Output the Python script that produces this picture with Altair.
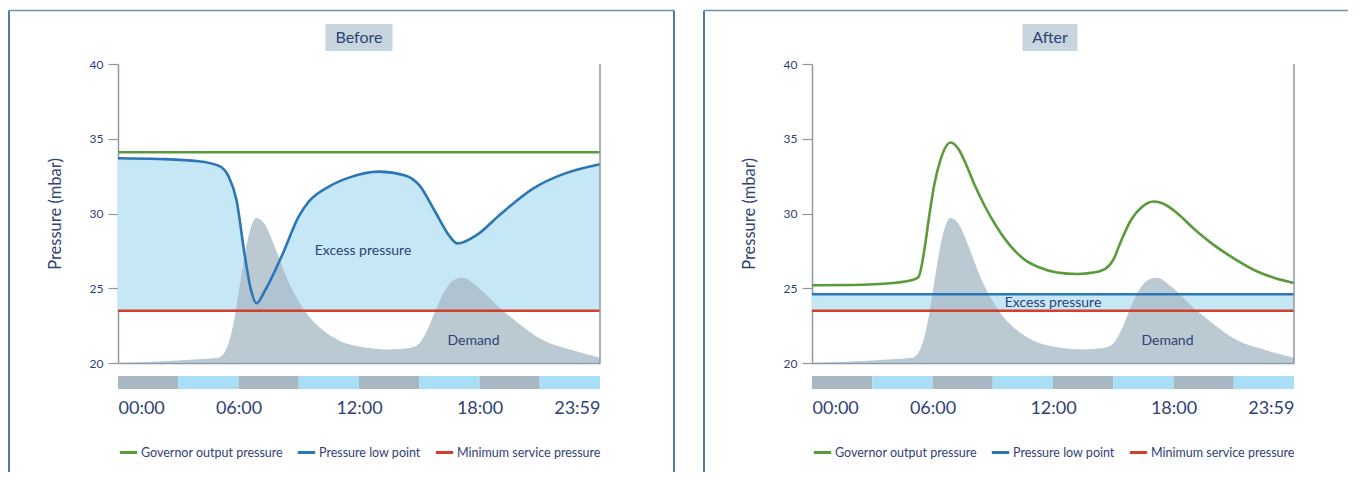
import altair as alt
import pandas as pd

# ---------------- data ----------------
SERIES = ["Governor output pressure", "Pressure low point", "Minimum service pressure"]

MIN_SERVICE = 23.5          # mbar, both panels
GOV_BEFORE = 34.1           # constant governor output, "Before"
LOW_AFTER = 24.6            # constant pressure low point, "After"

HOURS_LOW_BEFORE = [0, 2, 4, 5.0, 5.5, 5.9, 6.3, 6.6, 6.9, 7.3, 8.2, 9.0, 9.5, 10.5, 11.5,
                    13.0, 14.3, 15.0, 15.8, 16.5, 16.9, 17.9, 19.0, 20.7, 22.3, 24]
LOW_BEFORE = [33.7, 33.65, 33.5, 33.2, 32.5, 30.9, 27.3, 25.0, 24.0, 24.8, 27.3, 29.8, 30.8, 31.8, 32.4,
              32.8, 32.55, 31.9, 30.1, 28.5, 28.0, 28.6, 29.9, 31.7, 32.7, 33.3]

HOURS_GOV_AFTER = [0, 2, 4, 5.0, 5.3, 5.6, 5.8, 6.1, 6.4, 6.9, 7.3, 7.7, 8.1, 8.6, 9.2, 9.9, 10.6,
                   11.3, 12.2, 13.2, 14.0, 14.6, 15.0, 15.4, 15.9, 16.4, 17.0, 17.5, 18.2, 19.0,
                   20.0, 21.0, 22.2, 23.0, 24]
GOV_AFTER = [25.2, 25.22, 25.35, 25.55, 25.75, 27.6, 29.5, 32.0, 33.6, 34.75, 34.3, 33.2, 31.9, 30.5, 29.1,
             27.8, 26.9, 26.4, 26.05, 25.95, 26.05, 26.3, 26.9, 28.2, 29.6, 30.4, 30.8, 30.65, 30.0, 29.0,
             27.9, 27.0, 26.1, 25.7, 25.35]

HOURS_DEMAND = [0, 2, 4, 5, 5.5, 5.8, 6.1, 6.5, 6.9, 7.3, 7.8, 8.4, 9.3, 10.2, 11.0, 12.0, 13.5,
                14.5, 15.0, 15.4, 15.8, 16.3, 16.8, 17.2, 17.8, 19.0, 20.0, 21.2, 22.5, 24]
DEMAND = [20.0, 20.1, 20.25, 20.35, 21.3, 23.0, 25.5, 28.5, 29.7, 29.3, 27.8, 25.7, 23.5, 22.2, 21.5, 21.1, 20.9,
          21.0, 21.3, 22.2, 23.5, 24.9, 25.6, 25.7, 25.2, 23.7, 22.6, 21.5, 20.9, 20.35]

BLOCK_START = [0, 3, 6, 9, 12, 15, 18, 21]
BLOCK_END = [3, 6, 9, 12, 15, 18, 21, 24]
BLOCK_KIND = ["dark", "light", "dark", "light", "dark", "light", "dark", "light"]

X_TICKS = [0, 6, 12, 18, 24]
X_TICK_LABELS = ["00:00", "06:00", "12:00", "18:00", "23:59"]
Y_TICKS = [20, 25, 30, 35, 40]

ANNOT_TEXT = ["Excess pressure", "Demand"]
ANNOT_BEFORE_HOUR = [12.2, 17.7]
ANNOT_BEFORE_VALUE = [27.5, 21.5]
ANNOT_AFTER_HOUR = [12.0, 17.7]
ANNOT_AFTER_VALUE = [24.0, 21.5]

# ---------------- styles ----------------
FONT = "Lato"
NAVY = "#2f4277"
GREEN = "#5a9a3a"
BLUE = "#2a76b6"
RED = "#d23f2a"
EXCESS = "#c6e7f6"
DEMAND_C = "#a9bcc7"
BAR_GREY = "#a8b8c2"
BAR_BLUE = "#a8def6"
AXIS_GREY = "#8d9aa5"
FRAME = "#1f4d80"
FRAME_TOP = "#6d8db5"
TITLE_BOX = "#c6d5de"

W, H = 482, 299

label_expr = ""
for v, s in zip(X_TICKS, X_TICK_LABELS):
    label_expr += f"datum.value == {v} ? '{s}' : "
label_expr += "''"

x_scale = alt.Scale(domain=[0, 24], nice=False, zero=False)
y_scale = alt.Scale(domain=[20, 40], nice=False, zero=False)
x_axis = alt.Axis(values=X_TICKS, labelExpr=label_expr, labelFlush=True, ticks=False, grid=False,
                  domainColor=AXIS_GREY, domainWidth=1.5, labelColor=NAVY, labelFontSize=18,
                  labelPadding=36, title=None)
y_axis = alt.Axis(values=Y_TICKS, grid=False, tickSize=10, tickColor=AXIS_GREY, tickWidth=1.2,
                  domainColor=AXIS_GREY, domainWidth=1.5, labelColor=NAVY, labelFontSize=12,
                  labelPadding=5, title="Pressure (mbar)", titleFontSize=16.5, titleFontWeight="normal",
                  titleColor=NAVY, titlePadding=26)


def X(field):
    return alt.X(field, scale=x_scale, axis=x_axis)


def Y(field):
    return alt.Y(field, scale=y_scale, axis=y_axis)


one = pd.DataFrame({"k": [0]})


def panel(title, box_center, box_half, gov_h, gov_v, low_h, low_v, ann_h, ann_v,
          frame_left, frame_right, frame_top_end):
    lines = pd.concat([
        pd.DataFrame({"hour": gov_h, "value": gov_v, "series": SERIES[0]}),
        pd.DataFrame({"hour": low_h, "value": low_v, "series": SERIES[1]}),
        pd.DataFrame({"hour": [0, 24], "value": [MIN_SERVICE, MIN_SERVICE], "series": SERIES[2]}),
    ])
    excess = pd.DataFrame({"hour": low_h, "low": low_v, "minp": [MIN_SERVICE] * len(low_h)})
    demand = pd.DataFrame({"hour": HOURS_DEMAND, "demand": DEMAND, "base": [20] * len(DEMAND)})
    blocks = pd.DataFrame({"start": BLOCK_START, "end": BLOCK_END, "kind": BLOCK_KIND})
    annots = pd.DataFrame({"text": ANNOT_TEXT, "hour": ann_h, "value": ann_v})
    ttl = pd.DataFrame({"title": [title]})

    layers = []
    # frame
    layers.append(alt.Chart(one).mark_rule(color=FRAME, strokeWidth=1.5).encode(
        x=alt.value(frame_left), y=alt.value(-53.5), y2=alt.value(408)))
    if frame_right is not None:
        layers.append(alt.Chart(one).mark_rule(color=FRAME, strokeWidth=1.5).encode(
            x=alt.value(frame_right), y=alt.value(-53.5), y2=alt.value(408)))
    layers.append(alt.Chart(one).mark_rule(color=FRAME_TOP, strokeWidth=1.5).encode(
        x=alt.value(frame_left), x2=alt.value(frame_top_end), y=alt.value(-53.5)))
    # title box
    layers.append(alt.Chart(ttl).mark_rect(color=TITLE_BOX).encode(
        x=alt.value(box_center - box_half), x2=alt.value(box_center + box_half),
        y=alt.value(-40), y2=alt.value(-13)))
    layers.append(alt.Chart(ttl).mark_text(font=FONT, fontSize=16, color=NAVY, align="center",
                                           baseline="middle").encode(
        x=alt.value(box_center), y=alt.value(-26.5), text="title:N"))
    # excess pressure band
    layers.append(alt.Chart(excess).mark_area(color=EXCESS, interpolate="monotone").encode(
        x=X("hour:Q"), y=Y("low:Q"), y2="minp:Q"))
    # demand
    layers.append(alt.Chart(demand).mark_area(color=DEMAND_C, opacity=0.8, interpolate="monotone").encode(
        x=X("hour:Q"), y=Y("demand:Q"), y2="base:Q"))
    # pressure lines
    layers.append(alt.Chart(lines).mark_line(strokeWidth=2.6, interpolate="monotone").encode(
        x=X("hour:Q"), y=Y("value:Q"),
        color=alt.Color("series:N",
                        scale=alt.Scale(domain=SERIES, range=[GREEN, BLUE, RED]),
                        legend=alt.Legend(orient="none", legendX=0, legendY=378, direction="horizontal",
                                          title=None, symbolType="stroke", symbolStrokeWidth=3,
                                          symbolSize=300, labelFont=FONT, labelFontSize=12.5,
                                          labelColor=NAVY, columnPadding=8, labelOffset=2, padding=0))))
    # right edge line
    layers.append(alt.Chart(one).mark_rule(color=AXIS_GREY, strokeWidth=1.5).encode(
        x=alt.X(datum=24, scale=x_scale, axis=x_axis), y=alt.Y(datum=20, scale=y_scale, axis=y_axis),
        y2=alt.datum(40)))
    # time-of-day bar
    layers.append(alt.Chart(blocks).mark_rect().encode(
        x=X("start:Q"), x2="end:Q", y=alt.value(312), y2=alt.value(325),
        fill=alt.Fill("kind:N", scale=alt.Scale(domain=["dark", "light"], range=[BAR_GREY, BAR_BLUE]),
                      legend=None)))
    # annotations
    layers.append(alt.Chart(annots).mark_text(font=FONT, fontSize=14, color=NAVY).encode(
        x=X("hour:Q"), y=Y("value:Q"), text="text:N"))

    return alt.layer(*layers).properties(width=W, height=H)


before = panel("Before", 241, 33.5, [0, 24], [GOV_BEFORE, GOV_BEFORE], HOURS_LOW_BEFORE, LOW_BEFORE,
               ANNOT_BEFORE_HOUR, ANNOT_BEFORE_VALUE, -109, 556, 556)
after = panel("After", 238, 27.5, HOURS_GOV_AFTER, GOV_AFTER, [0, 24], [LOW_AFTER, LOW_AFTER],
              ANNOT_AFTER_HOUR, ANNOT_AFTER_VALUE, -108, None, 536)

chart = alt.hconcat(before, after, spacing=28).resolve_scale(
    color="independent", fill="independent").resolve_legend(color="independent").properties(
    padding={"left": 0, "top": 1, "right": 0, "bottom": 0}, background="white"
).configure(font=FONT).configure_view(stroke=None)

chart.save("out.html", embed_options={"renderer": "svg", "actions": False})
